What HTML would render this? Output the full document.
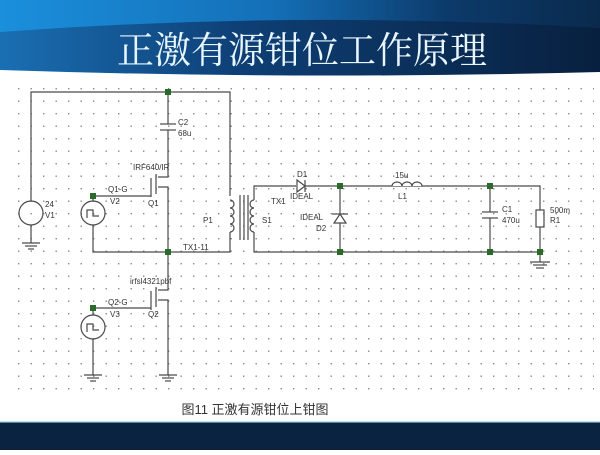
<!DOCTYPE html>
<html><head><meta charset="utf-8"><style>
body{margin:0;width:600px;height:450px;overflow:hidden;background:#fff;font-family:"Liberation Sans","Noto Sans CJK SC",sans-serif}
</style></head><body>
<svg width="600" height="450" viewBox="0 0 600 450" xmlns="http://www.w3.org/2000/svg">
<defs>
<linearGradient id="hg" x1="0" x2="1" y1="0" y2="0">
<stop offset="0" stop-color="#1b8fdc"/><stop offset="0.45" stop-color="#1470b8"/><stop offset="0.75" stop-color="#0c3a6a"/><stop offset="1" stop-color="#0a2a4c"/></linearGradient>
<linearGradient id="tg" x1="0" x2="1" y1="0" y2="0">
<stop offset="0" stop-color="#1a6fb3"/><stop offset="0.4" stop-color="#0e3f75"/><stop offset="1" stop-color="#08203f"/></linearGradient>
<pattern id="dots" x="18" y="88" width="12.5" height="12.5" patternUnits="userSpaceOnUse">
<rect x="0" y="0" width="1.4" height="1.4" fill="#888"/></pattern>
</defs>
<rect x="0" y="0" width="600" height="90" fill="url(#hg)"/>
<path d="M0 32 Q300 10 600 28 L600 72 Q300 80 0 70 Z" fill="url(#tg)"/>
<path d="M0 70 Q300 80 600 72 L600 90 L0 90 Z" fill="#fff"/>
<text x="302" y="63" text-anchor="middle" font-family="'Noto Serif CJK SC',serif" font-size="37" fill="#e8f6ff">正激有源钳位工作原理</text>
<rect x="16" y="86" width="578" height="306" fill="url(#dots)"/>
<g stroke="#4a4a4a" stroke-width="1.2" fill="none">
<polyline points="31,201 31,92 230,92 230,196"/>
<line x1="31" y1="225" x2="31" y2="243"/>
<line x1="22" y1="243" x2="40" y2="243"/><line x1="25" y1="246" x2="37" y2="246"/><line x1="28" y1="249" x2="34" y2="249"/>
<circle cx="31" cy="213" r="12"/>
<line x1="168" y1="92" x2="168" y2="124"/><line x1="160" y1="124" x2="176" y2="124"/><line x1="160" y1="130" x2="176" y2="130"/>
<polyline points="168,130 168,177 158,177"/>
<line x1="156" y1="174" x2="156" y2="194"/>
<line x1="151" y1="178" x2="151" y2="197"/>
<polyline points="158,187 168,187 168,290 158,290"/>
<polyline points="93,201 93,196 151,196"/>
<polyline points="93,225 93,252 230,252 230,232"/>
<circle cx="93" cy="213" r="12"/>
<path d="M87 218 L87 210 L93 210 L93 216 L99 216"/>
<path d="M230 200 a4 4 0 0 1 0 8 a4 4 0 0 1 0 8 a4 4 0 0 1 0 8 a4 4 0 0 1 0 8"/>
<line x1="240" y1="195" x2="240" y2="240"/><line x1="244" y1="195" x2="244" y2="240"/><line x1="248" y1="195" x2="248" y2="240"/>
<path d="M254 200 a4 4 0 0 0 0 8 a4 4 0 0 0 0 8 a4 4 0 0 0 0 8 a4 4 0 0 0 0 8"/>
<line x1="156" y1="287" x2="156" y2="307"/>
<line x1="151" y1="291" x2="151" y2="310"/>
<polyline points="158,300 168,300 168,375"/>
<line x1="159" y1="375" x2="177" y2="375"/><line x1="162" y1="378" x2="174" y2="378"/><line x1="165" y1="381" x2="171" y2="381"/>
<polyline points="93,315 93,308 151,308"/>
<circle cx="93" cy="327" r="12"/>
<path d="M87 332 L87 324 L93 324 L93 330 L99 330"/>
<line x1="93" y1="339" x2="93" y2="375"/>
<line x1="84" y1="375" x2="102" y2="375"/><line x1="87" y1="378" x2="99" y2="378"/><line x1="90" y1="381" x2="96" y2="381"/>
<polyline points="254,200 254,186 296,186"/><polyline points="305,186 540,186 540,210"/>
<polyline points="254,232 254,252 540,252 540,262"/>
<line x1="530" y1="262" x2="550" y2="262"/><line x1="533" y1="265" x2="547" y2="265"/><line x1="536" y1="268" x2="544" y2="268"/>
<rect x="536" y="210" width="8" height="17"/><line x1="540" y1="227" x2="540" y2="252"/>
<line x1="340" y1="186" x2="340" y2="214"/><line x1="340" y1="223" x2="340" y2="252"/>
<line x1="332" y1="214" x2="348" y2="214"/>
<line x1="490" y1="186" x2="490" y2="212"/><line x1="482" y1="212" x2="498" y2="212"/><line x1="482" y1="218" x2="498" y2="218"/><line x1="490" y1="218" x2="490" y2="252"/>
<path d="M392 186 a5 4 0 0 1 10 0 a5 4 0 0 1 10 0 a5 4 0 0 1 10 0" fill="#fff"/>
<line x1="305" y1="180" x2="305" y2="192"/>
</g>
<polygon points="297,180 297,192 305,186" fill="none" stroke="#4a4a4a" stroke-width="1.2"/>
<polygon points="334,223 346,223 340,214" fill="none" stroke="#4a4a4a" stroke-width="1.2"/>
<g fill="#2a6a2a">
<rect x="165" y="89" width="6" height="6"/><rect x="165" y="249" width="6" height="6"/>
<rect x="90" y="193" width="6" height="6"/><rect x="90" y="305" width="6" height="6"/>
<rect x="337" y="183" width="6" height="6"/><rect x="337" y="249" width="6" height="6"/>
<rect x="487" y="183" width="6" height="6"/><rect x="487" y="249" width="6" height="6"/>
<rect x="537" y="249" width="6" height="6"/>
</g>
<g font-size="8" fill="#333">
<text x="178" y="125">C2</text><text x="178" y="136">68u</text>
<text x="133" y="170">IRF640/IR</text>
<text x="108" y="192">Q1-G</text><text x="110" y="204">V2</text><text x="148" y="206">Q1</text>
<text x="45" y="207">24</text><text x="45" y="218">V1</text>
<text x="183" y="250">TX1-11</text>
<text x="203" y="223">P1</text><text x="262" y="223">S1</text><text x="271" y="204">TX1</text>
<text x="130" y="284">irfsl4321pbf</text>
<text x="108" y="305">Q2-G</text><text x="110" y="317">V3</text><text x="148" y="317">Q2</text>
<text x="297" y="177">D1</text><text x="290" y="199">IDEAL</text>
<text x="300" y="220">IDEAL</text><text x="316" y="231">D2</text>
<text x="395" y="178">15u</text><text x="398" y="199">L1</text>
<text x="502" y="212">C1</text><text x="502" y="223">470u</text>
<text x="550" y="213">500m</text><text x="550" y="223">R1</text>
</g>
<text x="255" y="414" text-anchor="middle" font-size="13" fill="#333">图11 正激有源钳位上钳图</text>
<rect x="0" y="421" width="600" height="29" fill="#0a2340"/>
<rect x="0" y="421" width="600" height="1.5" fill="#bfe3f0"/>
</svg>
</body></html>
